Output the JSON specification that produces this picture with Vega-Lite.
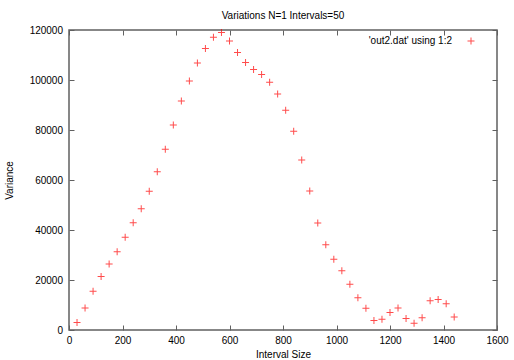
{
  "$schema": "https://vega.github.io/schema/vega-lite/v6.json",
  "width": 428,
  "height": 300,
  "autosize": {"type": "none"},
  "padding": {"left": 69, "top": 30, "right": 17, "bottom": 30},
  "background": "white",
  "title": {"text": "Variations N=1 Intervals=50", "fontSize": 10, "fontWeight": "normal", "font": "Liberation Sans", "color": "#000", "offset": 4},
  "config": {
    "view": {"stroke": "#606060", "strokeWidth": 1.5},
    "axis": {"labelFont": "Liberation Sans", "titleFont": "Liberation Sans", "labelFontSize": 10, "titleFontSize": 10, "titleFontWeight": "normal", "labelColor": "#000", "titleColor": "#000", "domain": false, "grid": false, "tickColor": "#606060", "tickWidth": 1, "tickSize": -5}
  },
  "data": {"values": [
    {"interval": 30, "variance": 3000},
    {"interval": 60, "variance": 8800},
    {"interval": 90, "variance": 15500},
    {"interval": 120, "variance": 21400},
    {"interval": 150, "variance": 26400},
    {"interval": 180, "variance": 31300},
    {"interval": 210, "variance": 37100},
    {"interval": 240, "variance": 42900},
    {"interval": 270, "variance": 48500},
    {"interval": 300, "variance": 55500},
    {"interval": 330, "variance": 63300},
    {"interval": 360, "variance": 72300},
    {"interval": 390, "variance": 82000},
    {"interval": 420, "variance": 91600},
    {"interval": 450, "variance": 99600},
    {"interval": 480, "variance": 106800},
    {"interval": 510, "variance": 112600},
    {"interval": 540, "variance": 117100},
    {"interval": 570, "variance": 119000},
    {"interval": 600, "variance": 115600},
    {"interval": 630, "variance": 111000},
    {"interval": 660, "variance": 107000},
    {"interval": 690, "variance": 104200},
    {"interval": 720, "variance": 102200},
    {"interval": 750, "variance": 99100},
    {"interval": 780, "variance": 94400},
    {"interval": 810, "variance": 87900},
    {"interval": 840, "variance": 79500},
    {"interval": 870, "variance": 68000},
    {"interval": 900, "variance": 55600},
    {"interval": 930, "variance": 42800},
    {"interval": 960, "variance": 34100},
    {"interval": 990, "variance": 28300},
    {"interval": 1020, "variance": 23700},
    {"interval": 1050, "variance": 18300},
    {"interval": 1080, "variance": 12900},
    {"interval": 1110, "variance": 8700},
    {"interval": 1140, "variance": 3800},
    {"interval": 1170, "variance": 4300},
    {"interval": 1200, "variance": 7000},
    {"interval": 1230, "variance": 8800},
    {"interval": 1260, "variance": 4600},
    {"interval": 1290, "variance": 2700},
    {"interval": 1320, "variance": 4900},
    {"interval": 1350, "variance": 11700},
    {"interval": 1380, "variance": 12200},
    {"interval": 1410, "variance": 10500},
    {"interval": 1440, "variance": 5200}
  ]},
  "layer": [
    {
      "mark": {"type": "point", "shape": "M-1,0H1M0,-1V1", "filled": false, "strokeWidth": 1, "size": 49, "opacity": 0.7},
      "encoding": {
        "x": {"field": "interval", "type": "quantitative", "title": "Interval Size", "scale": {"domain": [0, 1600], "nice": false, "zero": false}, "axis": {"orient": "bottom", "values": [0, 200, 400, 600, 800, 1000, 1200, 1400, 1600], "format": "d", "labelPadding": 10, "titlePadding": 4, "labelFlush": false}},
        "y": {"field": "variance", "type": "quantitative", "title": "Variance", "scale": {"domain": [0, 120000], "nice": false}, "axis": {"orient": "left", "values": [0, 20000, 40000, 60000, 80000, 100000, 120000], "format": "d", "labelPadding": 11.5, "titlePadding": 15, "labelFlush": false}},
        "color": {"datum": "'out2.dat' using 1:2", "type": "nominal", "scale": {"range": ["#ff0000"]}, "legend": {"title": null, "orient": "none", "legendX": 397, "legendY": 6, "padding": 0, "symbolType": "M-1,0H1M0,-1V1", "symbolSize": 49, "symbolStrokeWidth": 1, "symbolStrokeColor": "#ff0000", "symbolFillColor": "transparent", "symbolOpacity": 0.7, "labelAlign": "right", "labelOffset": -24, "labelFont": "Liberation Sans", "labelFontSize": 10, "labelColor": "#000"}}
      }
    },
    {
      "mark": {"type": "point", "opacity": 0},
      "encoding": {
        "x": {"field": "interval", "type": "quantitative", "axis": {"orient": "top", "labels": false, "title": null, "values": [0, 200, 400, 600, 800, 1000, 1200, 1400, 1600]}},
        "y": {"field": "variance", "type": "quantitative", "axis": {"orient": "right", "labels": false, "title": null, "values": [0, 20000, 40000, 60000, 80000, 100000, 120000]}}
      }
    }
  ],
  "resolve": {"axis": {"x": "independent", "y": "independent"}}
}
